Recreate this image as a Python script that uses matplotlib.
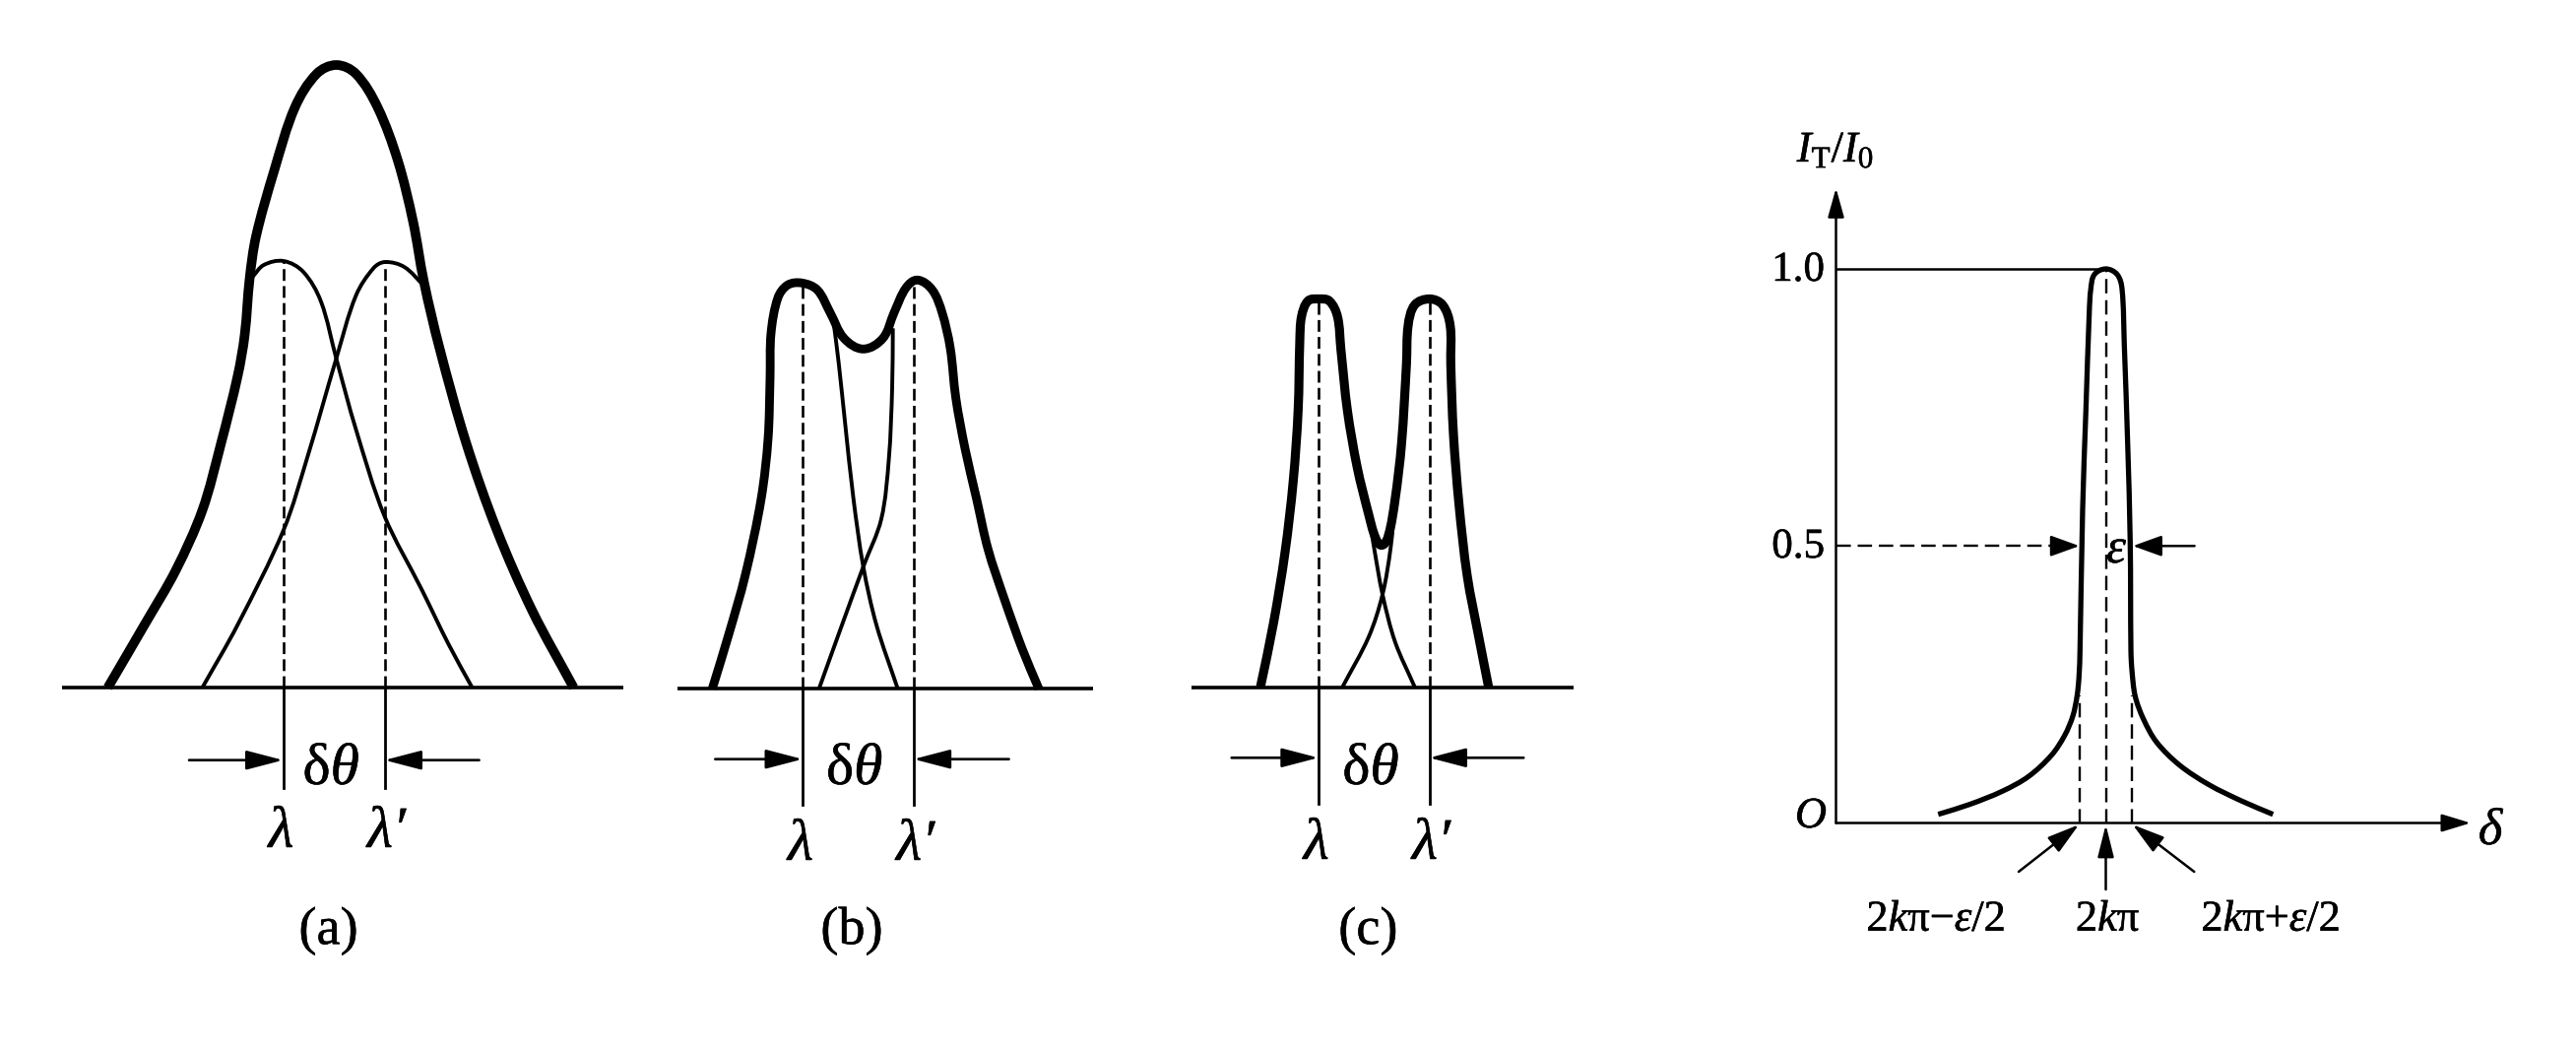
import numpy as np
import matplotlib
matplotlib.use("Agg")
import matplotlib.pyplot as plt
import matplotlib.patheffects as pe
from matplotlib.path import Path
from matplotlib.patches import PathPatch

# ------------------------------------------------------------------
# Data
# Panels (a)-(c): x = angular offset from the middle of the line pair,
# y = intensity (arbitrary units, 1 unit = 1 px of the original drawing)
# ------------------------------------------------------------------
LAMBDA_A = [-52.0, 51.0]
PEAK_A = [432, 432]
ENV_A_X = [-230, -192, -161, -134, -115, -98, -91, -86, -79.5, -61, -40, -18, 2,
           22, 44, 64.5, 80, 91, 107, 134, 165, 201, 243]
ENV_A_Y = [0, 65, 119, 180, 248, 317, 358, 415, 458, 525, 589, 623, 632,
           623, 589, 535, 473, 412, 344, 248, 160, 78, 0]
COMP_A1_X = [-83, -71.6, -51.5, -31.5, -13.6, 2, 22, 51, 89, 116, 140]
COMP_A1_Y = [417, 429, 433, 422, 392, 334, 262, 174, 99, 44, 0]
COMP_A2_X = [-134, -98, -51.5, -27, 2, 22, 40, 51.5, 71, 91]
COMP_A2_Y = [0, 64, 160, 235, 334, 398, 426, 432, 427, 408]

LAMBDA_B = [-56.0, 56.7]
PEAK_B = [412, 415]
ENV_B_X = [-147.7, -131, -114, -98, -91, -89, -88, -81, -71, -56.7, -41, -28, -14,
           5.7, 25.7, 37, 49, 60.7, 75.7, 85.7, 94, 99.7, 109, 120.7, 132.3, 149,
           167.3, 184]
ENV_B_Y = [0, 55, 116, 193, 254, 315, 361, 397, 410, 412, 405, 382, 356,
           345, 356, 382, 407, 415, 405, 382, 346, 295, 244, 193, 142, 91, 40, 0]
COMP_B1_X = [-24.3, -19.3, -12.7, -4.3, 5.7, 19, 40.7]
COMP_B1_Y = [371, 331, 269, 193, 124, 65, 0]
COMP_B2_X = [35.7, 35, 31.7, 24, 5.7, -17.7, -39.3]
COMP_B2_Y = [366, 305, 234, 172.5, 124, 60, 0]

LAMBDA_C = [-56.5, 56.2]
PEAK_C = [394, 394]
ENV_C_X = [-115.3, -102, -90.3, -82, -77, -75.3, -73.6, -67, -56.3, -45.3, -37,
           -33.6, -27, -17, -5.3, 1.4, 8, 14.7, 21.4, 28, 33, 34.7, 41.4, 56.4,
           69.7, 77.4, 78, 80.7, 86.4, 94.7, 106.4, 116.4]
ENV_C_Y = [0, 65, 137, 209, 281, 352, 376, 392, 394, 392, 376,
           343, 281, 223, 175, 152, 144, 154, 190, 247, 328, 367, 388, 394,
           388, 367, 328, 257, 185, 113, 51, 0]
COMP_C1_X = [-5.3, 0, 8.7, 21.4, 41.4]
COMP_C1_Y = [175, 142, 94, 46, 0]
COMP_C2_X = [21.4, 17, 8.7, -5.3, -32]
COMP_C2_Y = [190, 142, 94, 51, 0]

# Panel (d): delta - 2k*pi in units of epsilon, transmitted intensity I_T/I_0
D_X = [-3.242, -2.638, -2.004, -1.495, -1.051, -0.796, -0.638, -0.556, -0.518,
       -0.499, -0.448, -0.385, -0.32, -0.29, -0.22, 0.0, 0.22, 0.314, 0.358,
       0.423, 0.472, 0.486, 0.505, 0.568, 0.728, 0.981, 1.425, 1.996, 2.632, 3.234]
D_Y = [0.0156, 0.0334, 0.0572, 0.0839, 0.1223, 0.158, 0.193, 0.229, 0.2645,
       0.312, 0.567, 0.744, 0.921, 0.964, 0.99, 1.0, 0.99, 0.964, 0.863,
       0.685, 0.508, 0.312, 0.2764, 0.229, 0.1876, 0.146, 0.1045, 0.069, 0.0395, 0.0156]
D_TICKS = [0.5, 1.0]
D_TICK_LABELS = ["0.5", "1.0"]
D_MARKS = [-0.5, 0.0, 0.5]
D_MARK_LABELS = [r"$2k\mathrm{\pi}{-}\varepsilon/2$", r"$2k\mathrm{\pi}$",
                 r"$2k\mathrm{\pi}{+}\varepsilon/2$"]
PANEL_LABELS = ["(a)", "(b)", "(c)"]

# ------------------------------------------------------------------
W, H, DPI = 2616, 1068, 100
plt.rcParams.update({
    "font.family": ["Liberation Serif", "DejaVu Serif"],
    "mathtext.fontset": "custom",
    "mathtext.rm": "Liberation Serif",
    "mathtext.it": "Liberation Serif:italic",
    "mathtext.bf": "Liberation Serif:bold",
})
fig = plt.figure(figsize=(W / DPI, H / DPI), dpi=DPI)
fig.patch.set_facecolor("white")
TEXT_FX = [pe.withStroke(linewidth=0.35, foreground="black")]


def make_axes(x0, base, sx=1.0, sy=1.0):
    ax = fig.add_axes([0, 0, 1, 1])
    ax.set_xlim(-x0 / sx, (W - x0) / sx)
    ax.set_ylim((base - H) / sy, base / sy)
    ax.set_axis_off()
    ax.patch.set_alpha(0)
    return ax


def smooth(ax, xs, ys, lw, z):
    pts = ax.transData.transform(np.column_stack([xs, ys]))
    n = len(pts)
    dirs = np.empty_like(pts)
    for i in range(n):
        d = pts[min(i + 1, n - 1)] - pts[max(i - 1, 0)]
        dirs[i] = d / np.hypot(d[0], d[1])
    verts = [pts[0]]
    codes = [Path.MOVETO]
    for i in range(n - 1):
        L = np.hypot(*(pts[i + 1] - pts[i]))
        verts += [pts[i] + dirs[i] * L / 3, pts[i + 1] - dirs[i + 1] * L / 3, pts[i + 1]]
        codes += [Path.CURVE4] * 3
    verts = ax.transData.inverted().transform(np.array(verts))
    ax.add_patch(PathPatch(Path(verts, codes), fill=False, lw=lw, ec="black",
                           capstyle="butt", joinstyle="round", zorder=z))


def arrow(ax, tail, tip, hl, hw, lw=1.9, z=5):
    ax.annotate("", xy=tip, xytext=tail, xycoords="data", textcoords="data",
                arrowprops=dict(arrowstyle=f"-|>,head_length={hl},head_width={hw}",
                                mutation_scale=10, lw=lw, color="black",
                                shrinkA=0, shrinkB=0), zorder=z)


def ptext(x, y, s, size, style="normal", ha="center", va="baseline"):
    fig.text(x / W, 1 - y / H, s, fontsize=size, fontstyle=style, ha=ha, va=va,
             color="black", zorder=10, path_effects=TEXT_FX)


DASH_LW = 1.9
DASH = (8.6 / DASH_LW, 3.8 / DASH_LW)

panels = [
    dict(mid=339.5, base=698.0, ext=(-277, 293.5), ah=-73.7, tails=(-147.5, 147.1),
         tick=-102, lam=LAMBDA_A, peak=PEAK_A, env=(ENV_A_X, ENV_A_Y), elw=7.0,
         comps=[(COMP_A1_X, COMP_A1_Y), (COMP_A2_X, COMP_A2_Y)], lam_base=860),
    dict(mid=871.0, base=699.3, ext=(-183.4, 238.6), ah=-71.4, tails=(-144.7, 153.6),
         tick=-117.4, lam=LAMBDA_B, peak=PEAK_B, env=(ENV_B_X, ENV_B_Y), elw=6.4,
         comps=[(COMP_B1_X, COMP_B1_Y), (COMP_B2_X, COMP_B2_Y)], lam_base=873),
    dict(mid=1395.3, base=697.5, ext=(-185.3, 203.0), ah=-71.8, tails=(-144.6, 152.0),
         tick=-118.5, lam=LAMBDA_C, peak=PEAK_C, env=(ENV_C_X, ENV_C_Y), elw=6.6,
         comps=[(COMP_C1_X, COMP_C1_Y), (COMP_C2_X, COMP_C2_Y)], lam_base=872),
]

for p, lab in zip(panels, PANEL_LABELS):
    ax = make_axes(p["mid"], p["base"])
    ax.plot(p["ext"], [0, 0], color="black", lw=2.6, solid_capstyle="butt", zorder=1)
    for cx, cy in p["comps"]:
        smooth(ax, cx, cy, 2.8, 2)
    for x, top in zip(p["lam"], p["peak"]):
        ax.plot([x, x], [0, top], color="black", lw=DASH_LW, dashes=DASH, zorder=3)
        ax.plot([x, x], [p["tick"], 0], color="black", lw=2.0, zorder=3)
    ex, ey = p["env"]
    smooth(ax, ex, ey, p["elw"], 4)
    for tail, x in zip(p["tails"], p["lam"]):
        arrow(ax, (tail, p["ah"]), (x, p["ah"]), 2.3, 0.6, lw=1.9)
    # texts
    m = p["mid"]
    ptext(m - 3, 796, r"$\mathrm{\delta}\theta$", 43)
    ptext(m + p["lam"][0] - 2, p["lam_base"], "λ", 43, style="italic")
    ptext(m + p["lam"][1] + 2, p["lam_base"], "λ′", 43, style="italic")
    ptext(m - 6, 945, lab, 39, va="center")

# ---------------- panel (d) ----------------
EPS_PX = 52.5
axd = make_axes(2138.5, 835.5, EPS_PX, 562.5)
XO, XTIP, YTIP = -5.219, 7.057, 1.146
arrow(axd, (XO, 0), (XO, YTIP), 1.8, 0.5, lw=1.8)
arrow(axd, (XO, 0), (XTIP, 0), 1.8, 0.55, lw=1.8)
axd.plot([XO, 0], [1.0, 1.0], color="black", lw=1.8, zorder=2)
dlw = 1.7
ddash = (10.5 / dlw, 5.0 / dlw)
axd.plot([0, 0], [0, 1.0], color="black", lw=dlw, dashes=ddash, zorder=2)
for xm in (-0.5, 0.5):
    axd.plot([xm, xm], [0, 0.23], color="black", lw=dlw, dashes=ddash, zorder=2)
axd.plot([XO, -1.0], [0.5, 0.5], color="black", lw=dlw, dashes=ddash, zorder=2)
arrow(axd, (-1.05, 0.5), (-0.51, 0.5), 1.8, 0.65, lw=1.8)
arrow(axd, (1.716, 0.5), (0.524, 0.5), 1.8, 0.65, lw=1.8)
smooth(axd, D_X, D_Y, 3.8, 4)
# arrows pointing at the marked abscissae
arrow(axd, (-1.686, -0.088), (D_MARKS[0] - 0.02, -0.003), 2.0, 0.58, lw=1.8)
arrow(axd, (0.0, -0.12), (D_MARKS[1], -0.003), 2.0, 0.5, lw=1.8)
arrow(axd, (1.71, -0.088), (D_MARKS[2] + 0.02, -0.003), 2.0, 0.58, lw=1.8)

# texts of panel (d)
ptext(1864, 164, r"$I_{\mathrm{T}}/I_0$", 32)
ptext(1853, 285, D_TICK_LABELS[1], 31, ha="right")
ptext(1853, 566, D_TICK_LABELS[0], 31, ha="right")
ptext(1839, 840, "O", 32, style="italic")
ptext(2529, 857, "δ", 38, style="italic")
ptext(2149, 571, "ε", 36, style="italic")
for xc, s in zip([1966, 2140.8, 2306], D_MARK_LABELS):
    ptext(xc, 945, s, 32)

fig.savefig("out.png", dpi=DPI, facecolor="white")
